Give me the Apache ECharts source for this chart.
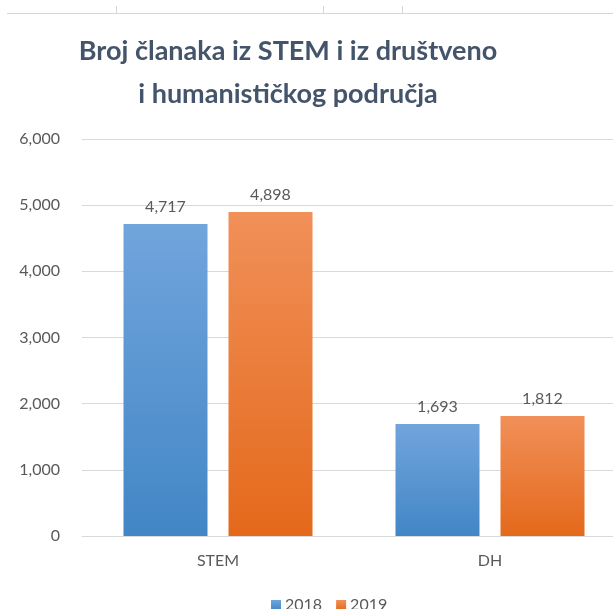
<!DOCTYPE html>
<html>
<head>
<meta charset="utf-8">
<script src="https://cdn.jsdelivr.net/npm/echarts@6/dist/echarts.min.js"></script>
<style>
  html, body { margin: 0; padding: 0; background: #fff; }
  #chart { width: 613px; height: 609px; }
</style>
</head>
<body>
<div id="chart"></div>
<script>
// chart data
const categories = ['STEM', 'DH'];
const seriesNames = ['2018', '2019'];
const values2018 = [4717, 1693];
const values2019 = [4898, 1812];
const yTicks = [0, 1000, 2000, 3000, 4000, 5000, 6000];

const fmt = v => v.toLocaleString('en-US');

function grad(top, bottom) {
  return new echarts.graphic.LinearGradient(0, 0, 0, 1, [
    { offset: 0, color: top },
    { offset: 1, color: bottom }
  ]);
}

const chart = echarts.init(document.getElementById('chart'), null, { renderer: 'canvas' });

const option = {
  animation: false,
  backgroundColor: '#ffffff',
  textStyle: { fontFamily: 'Lato' },
  title: {
    text: 'Broj članaka iz STEM i iz društveno\ni humanističkog područja',
    left: 283,
    top: 25,
    textAlign: 'center',
    textStyle: {
      fontFamily: 'Lato',
      fontSize: 27,
      fontWeight: 'bold',
      color: '#44546A',
      lineHeight: 43
    }
  },
  legend: {
    data: seriesNames,
    bottom: -9,
    left: 266,
    itemWidth: 10,
    itemHeight: 10,
    itemGap: 14,
    icon: 'rect',
    textStyle: { fontSize: 16, color: '#595959', padding: [0, 0, 0, -1] }
  },
  grid: {
    left: 82,
    width: 544,
    top: 139,
    bottom: 73,
    containLabel: false,
    outerBoundsMode: 'none'
  },
  xAxis: {
    type: 'category',
    data: categories,
    axisLine: { lineStyle: { color: '#D9D9D9' } },
    axisTick: { show: false },
    axisLabel: { color: '#595959', fontSize: 16, margin: 17 }
  },
  yAxis: {
    type: 'value',
    min: yTicks[0],
    max: yTicks[yTicks.length - 1],
    interval: 1000,
    axisLine: { show: false },
    axisTick: { show: false },
    splitLine: { lineStyle: { color: '#D9D9D9' } },
    axisLabel: { color: '#595959', fontSize: 16, margin: 22, formatter: fmt }
  },
  series: [
    {
      name: seriesNames[0],
      type: 'bar',
      data: values2018,
      barWidth: 84,
      barGap: '25%',
      itemStyle: { color: grad('#71A5DC', '#4286C6') },
      label: { show: true, position: 'top', distance: 9, color: '#595959', fontSize: 16, formatter: p => fmt(p.value) }
    },
    {
      name: seriesNames[1],
      type: 'bar',
      data: values2019,
      barWidth: 84,
      itemStyle: { color: grad('#F19059', '#E4691B') },
      label: { show: true, position: 'top', distance: 9, color: '#595959', fontSize: 16, formatter: p => fmt(p.value) }
    }
  ],
  graphic: [
    { type: 'line', shape: { x1: 7, y1: 13.5, x2: 613, y2: 13.5 }, style: { stroke: '#D6D6D6', lineWidth: 1 } },
    { type: 'line', shape: { x1: 116.5, y1: 6, x2: 116.5, y2: 13 }, style: { stroke: '#D6D6D6', lineWidth: 1 } },
    { type: 'line', shape: { x1: 323.5, y1: 6, x2: 323.5, y2: 13 }, style: { stroke: '#D6D6D6', lineWidth: 1 } },
    { type: 'line', shape: { x1: 402.5, y1: 6, x2: 402.5, y2: 13 }, style: { stroke: '#D6D6D6', lineWidth: 1 } }
  ]
};

chart.setOption(option);
</script>
</body>
</html>
